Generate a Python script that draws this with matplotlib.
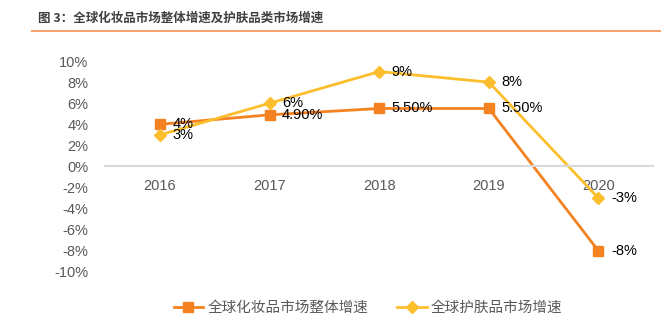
import matplotlib
matplotlib.use("Agg")
import matplotlib.pyplot as plt
from matplotlib.ticker import FuncFormatter

plt.rcParams['font.family'] = ['Noto Sans CJK SC', 'DejaVu Sans']

# Data
years = ["2016", "2017", "2018", "2019", "2020"]
cosmetics = [4.0, 4.9, 5.5, 5.5, -8.0]
skincare = [3.0, 6.0, 9.0, 8.0, -3.0]
cosmetics_labels = ["4%", "4.90%", "5.50%", "5.50%", "-8%"]
skincare_labels = ["3%", "6%", "9%", "8%", "-3%"]

orange = "#F58220"
yellow = "#FDBE2D"
num_font = "Liberation Sans"

fig = plt.figure(figsize=(6.7, 3.3), dpi=100)
ax = fig.add_axes([0.157, 0.176, 0.818, 0.639])

x = list(range(len(years)))
ax.plot(x, cosmetics, color=orange, marker="s", markersize=7, linewidth=2,
        label="全球化妆品市场整体增速")
ax.plot(x, skincare, color=yellow, marker="D", markersize=6, linewidth=2,
        label="全球护肤品市场增速")

for i in x:
    ax.annotate(cosmetics_labels[i], (i, cosmetics[i]), xytext=(9, 0),
                textcoords="offset points", va="center", ha="left",
                fontsize=10.5, family=num_font)
    ax.annotate(skincare_labels[i], (i, skincare[i]), xytext=(9, 0),
                textcoords="offset points", va="center", ha="left",
                fontsize=10.5, family=num_font)

ax.set_xlim(-0.5, len(years) - 0.5)
ax.set_ylim(-10, 10)
ax.set_yticks(range(-10, 11, 2))
ax.yaxis.set_major_formatter(FuncFormatter(lambda v, p: f"{int(v)}%"))
ax.set_xticks(x)
ax.set_xticklabels(years)

for s in ["top", "right", "left"]:
    ax.spines[s].set_visible(False)
ax.spines["bottom"].set_position(("data", 0))
ax.spines["bottom"].set_color("#d9d9d9")
ax.spines["bottom"].set_linewidth(1.5)
ax.tick_params(axis="both", length=0, colors="#595959", labelsize=10.5)
ax.tick_params(axis="x", pad=9)
ax.tick_params(axis="y", pad=12)
for t in ax.get_xticklabels() + ax.get_yticklabels():
    t.set_family(num_font)

ax.legend(loc="upper center", bbox_to_anchor=(0.48, -0.075), ncol=2,
          frameon=False, fontsize=10.5, labelcolor="#595959",
          handlelength=2.0, handletextpad=0.3, columnspacing=2.0)

fig.text(0.057, 0.945, "图 3：全球化妆品市场整体增速及护肤品类市场增速",
         fontsize=9, fontweight="bold", color="#404040", va="center")
fig.add_artist(plt.Line2D([0.048, 0.985], [0.905, 0.905], color="#F4A46A",
                          linewidth=1.5, transform=fig.transFigure))

fig.savefig("out.png", dpi=100)
